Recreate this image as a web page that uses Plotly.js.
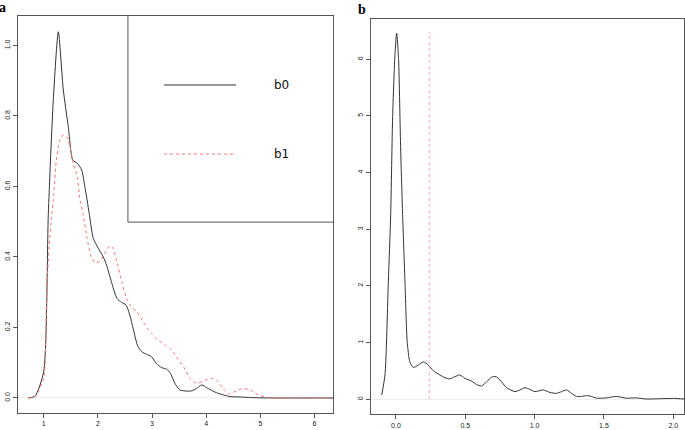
<!DOCTYPE html>
<html><head><meta charset="utf-8">
<script src="https://cdn.plot.ly/plotly-3.0.1.min.js"></script>
<style>html,body{margin:0;padding:0;background:#fff}#p{width:685px;height:430px}</style>
</head><body><div id="p"></div>
<script>
// Panel a: densities of b0 and b1
const a_x_b0 = [0.716,0.84,1.0,1.085,1.177,1.27,1.362,1.454,1.535,1.62,1.70,1.76,1.84,1.915,2.007,2.10,2.16,2.25,2.35,2.44,2.52,2.59,2.65,2.73,2.81,2.90,2.99,3.08,3.18,3.27,3.34,3.42,3.51,3.61,3.73,3.82,3.92,4.01,4.19,4.44,4.62,4.87,5.2,5.6,6.0,6.34];
const a_y_b0 = [0.0,0.005,0.075,0.52,0.845,1.039,0.874,0.770,0.675,0.666,0.647,0.60,0.524,0.453,0.425,0.40,0.377,0.33,0.283,0.271,0.264,0.235,0.198,0.150,0.131,0.124,0.117,0.098,0.086,0.082,0.070,0.042,0.023,0.020,0.020,0.027,0.037,0.029,0.015,0.004,0.003,0.001,0.0,0.0,0.0,0.0];
const a_x_b1 = [0.716,0.84,1.0,1.055,1.098,1.147,1.177,1.24,1.30,1.362,1.424,1.485,1.546,1.62,1.67,1.73,1.80,1.867,1.946,2.026,2.11,2.22,2.27,2.35,2.44,2.53,2.62,2.72,2.78,2.87,2.99,3.11,3.24,3.33,3.45,3.58,3.70,3.82,3.94,4.10,4.19,4.31,4.43,4.53,4.68,4.81,4.96,5.11,5.3,5.7,6.0,6.34];
const a_y_b1 = [0.0,0.004,0.056,0.30,0.425,0.519,0.562,0.685,0.732,0.746,0.741,0.713,0.666,0.628,0.562,0.52,0.453,0.406,0.384,0.387,0.406,0.432,0.428,0.387,0.33,0.283,0.259,0.245,0.231,0.207,0.184,0.165,0.150,0.141,0.117,0.089,0.056,0.042,0.048,0.056,0.051,0.027,0.011,0.018,0.027,0.023,0.009,0.002,0.0,0.0,0.0,0.0];
const a_xticks = [1,2,3,4,5,6];
const a_yticks = [0,0.2,0.4,0.6,0.8,1.0];
const a_ytext = ["0.0","0.2","0.4","0.6","0.8","1.0"];
const legendNames = ["b0","b1"];

// Panel b: density
const b_x = [-0.103,-0.079,-0.055,-0.038,-0.024,-0.007,0.005,0.019,0.034,0.048,0.065,0.081,0.10,0.125,0.161,0.197,0.233,0.269,0.317,0.353,0.389,0.425,0.461,0.497,0.546,0.582,0.618,0.654,0.69,0.721,0.75,0.798,0.858,0.894,0.930,0.966,1.002,1.062,1.110,1.158,1.194,1.23,1.266,1.302,1.338,1.374,1.41,1.446,1.518,1.59,1.66,1.734,1.806,1.903,2.0,2.08];
const b_y = [0.076,0.43,2.07,3.26,4.99,6.1,6.46,5.99,4.40,3.26,2.07,1.02,0.66,0.56,0.605,0.66,0.605,0.505,0.43,0.38,0.36,0.40,0.43,0.37,0.32,0.26,0.235,0.31,0.39,0.40,0.34,0.205,0.135,0.165,0.205,0.175,0.135,0.165,0.12,0.105,0.135,0.165,0.105,0.05,0.05,0.065,0.05,0.02,0.025,0.05,0.02,0.025,0.005,0.01,0.015,0.005];
const b_vline_x = [0.24,0.24];
const b_vline_y = [0,6.48];
const b_xticks = [0,0.5,1.0,1.5,2.0];
const b_xtext = ["0.0","0.5","1.0","1.5","2.0"];
const b_yticks = [0,1,2,3,4,5,6];

const tf = {family:"Liberation Sans, Arial, sans-serif", size:7, color:"#222"};
const axBase = {showline:true, mirror:true, linecolor:"#555", linewidth:1, ticks:"outside", ticklen:4, tickcolor:"#555", tickwidth:1, showgrid:false, tickfont:tf, fixedrange:true};

const traces = [
  {x:a_x_b0, y:a_y_b0, type:"scatter", mode:"lines", line:{color:"#333", width:1, shape:"spline", smoothing:0.6}, xaxis:"x", yaxis:"y", name:legendNames[0]},
  {x:a_x_b1, y:a_y_b1, type:"scatter", mode:"lines", line:{color:"#ff7070", width:1, dash:"dot", shape:"spline", smoothing:0.6}, xaxis:"x", yaxis:"y", name:legendNames[1]},
  {x:b_x, y:b_y, type:"scatter", mode:"lines", line:{color:"#333", width:1, shape:"spline", smoothing:0.6}, xaxis:"x2", yaxis:"y2"},
  {x:b_vline_x, y:b_vline_y, type:"scatter", mode:"lines", line:{color:"#ff9fb3", width:1, dash:"dot"}, xaxis:"x2", yaxis:"y2"}
];

const layout = {
  width:685, height:430, margin:{l:0,r:0,t:0,b:0}, showlegend:false,
  paper_bgcolor:"#fff", plot_bgcolor:"#fff",
  xaxis: Object.assign({}, axBase, {domain:[0.0263,0.4861], range:[0.526,6.34], tickvals:a_xticks, ticktext:a_xticks.map(String), zeroline:false}),
  yaxis: Object.assign({}, axBase, {domain:[0.0395,0.9628], range:[-0.0426,1.0837], tickvals:a_yticks, ticktext:a_ytext, tickangle:-90, zeroline:true, zerolinecolor:"#eeeeee", zerolinewidth:1}),
  xaxis2: Object.assign({}, axBase, {anchor:"y2", domain:[0.5412,0.9985], range:[-0.182,2.077], tickvals:b_xticks, ticktext:b_xtext, zeroline:false}),
  yaxis2: Object.assign({}, axBase, {anchor:"x2", domain:[0.0365,0.9565], range:[-0.265,6.716], tickvals:b_yticks, ticktext:b_yticks.map(String), tickangle:-90, zeroline:true, zerolinecolor:"#eeeeee", zerolinewidth:1}),
  shapes:[
    {type:"line", xref:"x", yref:"y", x0:2.555, x1:2.555, y0:0.499, y1:1.0837, line:{color:"#555", width:1}},
    {type:"line", xref:"x", yref:"y", x0:2.555, x1:6.34, y0:0.499, y1:0.499, line:{color:"#555", width:1}},
    {type:"line", xref:"x", yref:"y", x0:3.22, x1:4.55, y0:0.888, y1:0.888, line:{color:"#333", width:1}},
    {type:"line", xref:"x", yref:"y", x0:3.22, x1:4.55, y0:0.692, y1:0.692, line:{color:"#ff7070", width:1, dash:"dot"}}
  ],
  annotations:[
    {xref:"x", yref:"y", x:5.21, y:0.888, text:legendNames[0], showarrow:false, xanchor:"left", yanchor:"middle", font:{family:"DejaVu Sans, sans-serif", size:12, color:"#111"}},
    {xref:"x", yref:"y", x:5.21, y:0.692, text:legendNames[1], showarrow:false, xanchor:"left", yanchor:"middle", font:{family:"DejaVu Sans, sans-serif", size:12, color:"#111"}},
    {xref:"paper", yref:"paper", x:-0.004, y:1.005, text:"<b>a</b>", showarrow:false, xanchor:"left", yanchor:"top", font:{family:"Liberation Serif, DejaVu Serif, serif", size:14, color:"#000"}},
    {xref:"paper", yref:"paper", x:0.519, y:1.0, text:"<b>b</b>", showarrow:false, xanchor:"left", yanchor:"top", font:{family:"Liberation Serif, DejaVu Serif, serif", size:14, color:"#000"}}
  ]
};
Plotly.newPlot("p", traces, layout, {displayModeBar:false, staticPlot:true});
</script></body></html>
